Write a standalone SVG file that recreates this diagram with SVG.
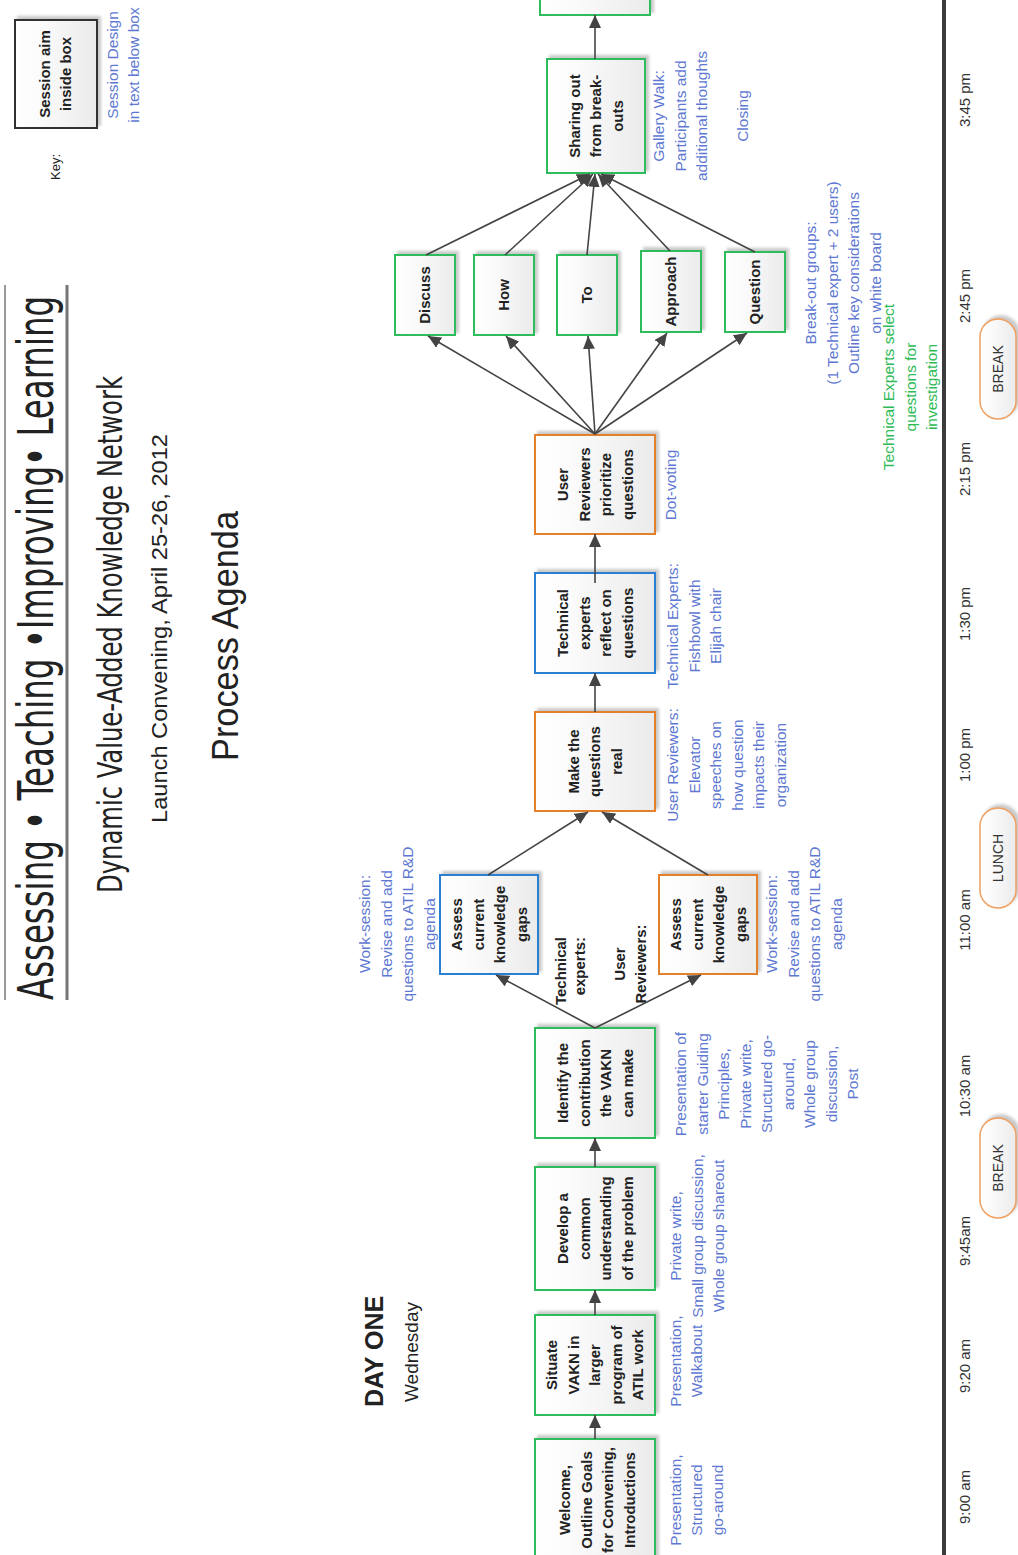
<svg xmlns="http://www.w3.org/2000/svg" width="1018" height="1555" viewBox="0 0 1018 1555">
<style>
.bg{fill:url(#gf);stroke-width:2;filter:url(#sh)}
.gr{stroke:#2dbd5c}.bl{stroke:#2a7fd2}.or{stroke:#e2802e}
.n{font-family:"Liberation Sans",Arial,sans-serif;font-weight:bold;font-size:15px;fill:#222;text-anchor:middle}
.a{font-family:"Liberation Sans",Arial,sans-serif;font-size:15.5px;fill:#5e78d2;text-anchor:middle}
.gt{font-family:"Liberation Sans",Arial,sans-serif;font-size:15.5px;fill:#2cbb55;text-anchor:middle}
.t{font-family:"Liberation Sans",Arial,sans-serif;font-size:15px;fill:#333;text-anchor:middle}
.p{font-family:"Liberation Sans",Arial,sans-serif;font-size:14px;fill:#333;text-anchor:middle}
.c{stroke:#444;stroke-width:1.6;fill:none;marker-end:url(#ah)}
.ttl{font-family:"DejaVu Sans Condensed","DejaVu Sans",sans-serif;fill:#222}
.cg{font-family:"Liberation Sans",Arial,sans-serif;fill:#222}
</style>
<defs>
<linearGradient id="gf" x1="0" y1="0" x2="0" y2="1">
<stop offset="0" stop-color="#ffffff"/><stop offset="0.3" stop-color="#fbfbfb"/><stop offset="1" stop-color="#ebebeb"/>
</linearGradient>
<filter id="sh" x="-10%" y="-10%" width="125%" height="125%">
<feDropShadow dx="3" dy="3" stdDeviation="1.5" flood-color="#888" flood-opacity="0.45"/>
</filter>
<marker id="ah" markerWidth="13" markerHeight="12" refX="13" refY="6" orient="auto" markerUnits="userSpaceOnUse">
<path d="M0,0 L13,6 L0,12 z" fill="#444"/>
</marker>
</defs>
<rect x="0" y="0" width="1018" height="1555" fill="#ffffff"/>
<g transform="translate(0,1555) rotate(-90)">
<g id="header">
<line x1="555" y1="5" x2="1270" y2="5" stroke="#999" stroke-width="2"/>
<text class="ttl" x="555" y="53" font-size="50" textLength="704" lengthAdjust="spacingAndGlyphs">Assessing • Teaching •Improving• Learning</text>
<line x1="555" y1="67" x2="1270" y2="67" stroke="#777" stroke-width="3"/>
<text class="ttl" x="662" y="122" font-size="34" textLength="517" lengthAdjust="spacingAndGlyphs">Dynamic Value-Added Knowledge Network</text>
<text class="cg" x="732" y="167" font-size="22" textLength="389" lengthAdjust="spacingAndGlyphs">Launch Convening, April 25-26, 2012</text>
<text class="cg" x="794" y="238" font-size="37" textLength="250" lengthAdjust="spacingAndGlyphs">Process Agenda</text>
<text class="cg" x="148" y="383" font-size="25" font-weight="bold">DAY ONE</text>
<text class="cg" x="153" y="418" font-size="19" fill="#333">Wednesday</text>
</g>
<g id="key">
<text class="cg" x="1388" y="60" font-size="13" text-anchor="middle" fill="#333">Key:</text>
<rect x="1427" y="15" width="108" height="82" fill="url(#gf)" stroke="#333" stroke-width="2" filter="url(#sh)"/>
<text class="n"><tspan x="1481" y="50">Session aim</tspan><tspan x="1481" y="71">inside box</tspan></text>
<text class="a"><tspan x="1490" y="118">Session Design</tspan><tspan x="1490" y="139">in text below box</tspan></text>
</g>
<g id="timeline">
<line x1="0" y1="944" x2="1555" y2="944" stroke="#3c3c3c" stroke-width="4"/>
<text class="t" x="58" y="970">9:00 am</text>
<text class="t" x="189" y="970">9:20 am</text>
<text class="t" x="314" y="970">9:45am</text>
<text class="t" x="469" y="970">10:30 am</text>
<text class="t" x="635" y="970">11:00 am</text>
<text class="t" x="800" y="970">1:00 pm</text>
<text class="t" x="941" y="970">1:30 pm</text>
<text class="t" x="1086" y="970">2:15 pm</text>
<text class="t" x="1259" y="970">2:45 pm</text>
<text class="t" x="1455" y="970">3:45 pm</text>
</g>
<g id="break1"><rect x="337" y="980" width="100" height="36" rx="18" fill="url(#gf)" stroke="#f0a060" stroke-width="1.6" filter="url(#sh)"/><text class="p" x="387" y="1003">BREAK</text></g>
<g id="lunch"><rect x="647" y="980" width="100" height="36" rx="18" fill="url(#gf)" stroke="#f0a060" stroke-width="1.6" filter="url(#sh)"/><text class="p" x="697" y="1003">LUNCH</text></g>
<g id="break2"><rect x="1136" y="980" width="100" height="36" rx="18" fill="url(#gf)" stroke="#f0a060" stroke-width="1.6" filter="url(#sh)"/><text class="p" x="1186" y="1003">BREAK</text></g>

<g id="n-welcome">
<rect class="bg gr" x="-10" y="535" width="126" height="120"/>
<text class="n"><tspan x="55" y="570">Welcome,</tspan><tspan x="55" y="592">Outline Goals</tspan><tspan x="55" y="613">for Convening,</tspan><tspan x="55" y="635">Introductions</tspan></text>
<text class="a"><tspan x="55" y="681">Presentation,</tspan><tspan x="55" y="702">Structured</tspan><tspan x="55" y="723">go-around</tspan></text>
</g>
<g id="n-situate">
<rect class="bg gr" x="140" y="535" width="100" height="120"/>
<text class="n"><tspan x="190" y="557">Situate</tspan><tspan x="190" y="578.5">VAKN in</tspan><tspan x="190" y="600">larger</tspan><tspan x="190" y="621.5">program of</tspan><tspan x="190" y="643">ATIL work</tspan></text>
<text class="a"><tspan x="194" y="681">Presentation,</tspan><tspan x="194" y="702">Walkabout</tspan></text>
</g>
<g id="n-develop">
<rect class="bg gr" x="265" y="535" width="123" height="120"/>
<text class="n"><tspan x="326.5" y="568">Develop a</tspan><tspan x="326.5" y="589.5">common</tspan><tspan x="326.5" y="611">understanding</tspan><tspan x="326.5" y="632.5">of the problem</tspan></text>
<text class="a"><tspan x="319" y="681">Private write,</tspan><tspan x="319" y="702.5">Small group discussion,</tspan><tspan x="319" y="724">Whole group shareout</tspan></text>
</g>
<g id="n-identify">
<rect class="bg gr" x="417" y="535" width="110" height="120"/>
<text class="n"><tspan x="472" y="568">Identify the</tspan><tspan x="472" y="589.5">contribution</tspan><tspan x="472" y="611">the VAKN</tspan><tspan x="472" y="632.5">can make</tspan></text>
<text class="a"><tspan x="471" y="686">Presentation of</tspan><tspan x="471" y="707.5">starter Guiding</tspan><tspan x="471" y="729">Principles,</tspan><tspan x="471" y="750.5">Private write,</tspan><tspan x="471" y="772">Structured go-</tspan><tspan x="471" y="793.5">around,</tspan><tspan x="471" y="815">Whole group</tspan><tspan x="471" y="836.5">discussion,</tspan><tspan x="471" y="858">Post</tspan></text>
</g>
<g id="n-assess-tech">
<rect class="bg bl" x="581" y="440" width="99" height="98"/>
<text class="n"><tspan x="630.5" y="462">Assess</tspan><tspan x="630.5" y="483.5">current</tspan><tspan x="630.5" y="505">knowledge</tspan><tspan x="630.5" y="526.5">gaps</tspan></text>
<text class="a"><tspan x="631" y="370">Work-session:</tspan><tspan x="631" y="391.5">Revise and add</tspan><tspan x="631" y="413">questions to ATIL R&amp;D</tspan><tspan x="631" y="434.5">agenda</tspan></text>
</g>
<g id="n-assess-user">
<rect class="bg or" x="581" y="659" width="99" height="98"/>
<text class="n"><tspan x="630.5" y="681">Assess</tspan><tspan x="630.5" y="702.5">current</tspan><tspan x="630.5" y="724">knowledge</tspan><tspan x="630.5" y="745.5">gaps</tspan></text>
<text class="a"><tspan x="631" y="777">Work-session:</tspan><tspan x="631" y="798.5">Revise and add</tspan><tspan x="631" y="820">questions to ATIL R&amp;D</tspan><tspan x="631" y="841.5">agenda</tspan></text>
</g>
<g id="n-make">
<rect class="bg or" x="744" y="535" width="99" height="120"/>
<text class="n"><tspan x="793.5" y="578.5">Make the</tspan><tspan x="793.5" y="600">questions</tspan><tspan x="793.5" y="621.5">real</tspan></text>
<text class="a"><tspan x="790" y="678">User Reviewers:</tspan><tspan x="790" y="699.5">Elevator</tspan><tspan x="790" y="721">speeches on</tspan><tspan x="790" y="742.5">how question</tspan><tspan x="790" y="764">impacts their</tspan><tspan x="790" y="785.5">organization</tspan></text>
</g>
<g id="n-reflect">
<rect class="bg bl" x="882" y="535" width="100" height="120"/>
<text class="n"><tspan x="932" y="568">Technical</tspan><tspan x="932" y="589.5">experts</tspan><tspan x="932" y="611">reflect on</tspan><tspan x="932" y="632.5">questions</tspan></text>
<text class="a"><tspan x="929" y="678">Technical Experts:</tspan><tspan x="929" y="699.5">Fishbowl with</tspan><tspan x="929" y="721">Elijah chair</tspan></text>
</g>
<g id="n-prioritize">
<rect class="bg or" x="1021" y="535" width="99" height="120"/>
<text class="n"><tspan x="1070.5" y="568">User</tspan><tspan x="1070.5" y="589.5">Reviewers</tspan><tspan x="1070.5" y="611">prioritize</tspan><tspan x="1070.5" y="632.5">questions</tspan></text>
<text class="a" x="1070" y="676">Dot-voting</text>
</g>
<g id="n-discuss"><rect class="bg gr" x="1220" y="395" width="80" height="60"/><text class="n" x="1260" y="430">Discuss</text></g>
<g id="n-how"><rect class="bg gr" x="1220" y="474" width="80" height="60"/><text class="n" x="1260" y="509">How</text></g>
<g id="n-to"><rect class="bg gr" x="1220" y="557" width="80" height="60"/><text class="n" x="1260" y="592">To</text></g>
<g id="n-approach"><rect class="bg gr" x="1223" y="641" width="81" height="60"/><text class="n" x="1263.5" y="676">Approach</text></g>
<g id="n-question"><rect class="bg gr" x="1223" y="725" width="80" height="60"/><text class="n" x="1263" y="760">Question</text></g>
<g id="breakout-notes">
<text class="a"><tspan x="1272" y="816">Break-out groups:</tspan><tspan x="1272" y="837.5">(1 Technical expert + 2 users)</tspan><tspan x="1272" y="859">Outline key considerations</tspan><tspan x="1272" y="880.5">on white board</tspan></text>
<text class="gt"><tspan x="1168" y="894">Technical Experts select</tspan><tspan x="1168" y="915.5">questions for</tspan><tspan x="1168" y="937">investigation</tspan></text>
</g>
<g id="n-sharing">
<rect class="bg gr" x="1382" y="547" width="114" height="98"/>
<text class="n"><tspan x="1439" y="579.5">Sharing out</tspan><tspan x="1439" y="601">from break-</tspan><tspan x="1439" y="622.5">outs</tspan></text>
<text class="a"><tspan x="1439" y="664">Gallery Walk:</tspan><tspan x="1439" y="685.5">Participants add</tspan><tspan x="1439" y="707">additional thoughts</tspan></text>
<text class="a" x="1439" y="748">Closing</text>
</g>
<g id="n-closing">
<rect class="bg gr" x="1540" y="540" width="40" height="110"/>
</g>
<g id="labels">
<text class="n" style="text-anchor:end"><tspan x="618" y="566">Technical</tspan><tspan x="618" y="585">experts:</tspan></text>
<text class="n"><tspan x="591" y="625">User</tspan><tspan x="591" y="646">Reviewers:</tspan></text>
</g>

<g id="connectors">
<line class="c" x1="116" y1="595" x2="140" y2="595"/>
<line class="c" x1="240" y1="595" x2="265" y2="595"/>
<line class="c" x1="388" y1="595" x2="417" y2="595"/>
<line class="c" x1="527" y1="595" x2="580" y2="496"/>
<line class="c" x1="527" y1="595" x2="580" y2="701"/>
<line class="c" x1="680" y1="488" x2="743" y2="588"/>
<line class="c" x1="680" y1="708" x2="743" y2="602"/>
<line class="c" x1="843" y1="595" x2="882" y2="595"/>
<line class="c" x1="972" y1="595" x2="1021" y2="595"/>
<line class="c" x1="1121" y1="595" x2="1219" y2="428"/>
<line class="c" x1="1121" y1="595" x2="1219" y2="506"/>
<line class="c" x1="1121" y1="595" x2="1219" y2="588"/>
<line class="c" x1="1121" y1="595" x2="1222" y2="667"/>
<line class="c" x1="1121" y1="595" x2="1222" y2="747"/>
<line class="c" x1="1300" y1="426" x2="1381" y2="590"/>
<line class="c" x1="1300" y1="505" x2="1381" y2="593"/>
<line class="c" x1="1300" y1="587" x2="1381" y2="595"/>
<line class="c" x1="1304" y1="670" x2="1381" y2="598"/>
<line class="c" x1="1303" y1="755" x2="1381" y2="601"/>
<line class="c" x1="1496" y1="595" x2="1540" y2="595"/>
</g>
</g>
</svg>
